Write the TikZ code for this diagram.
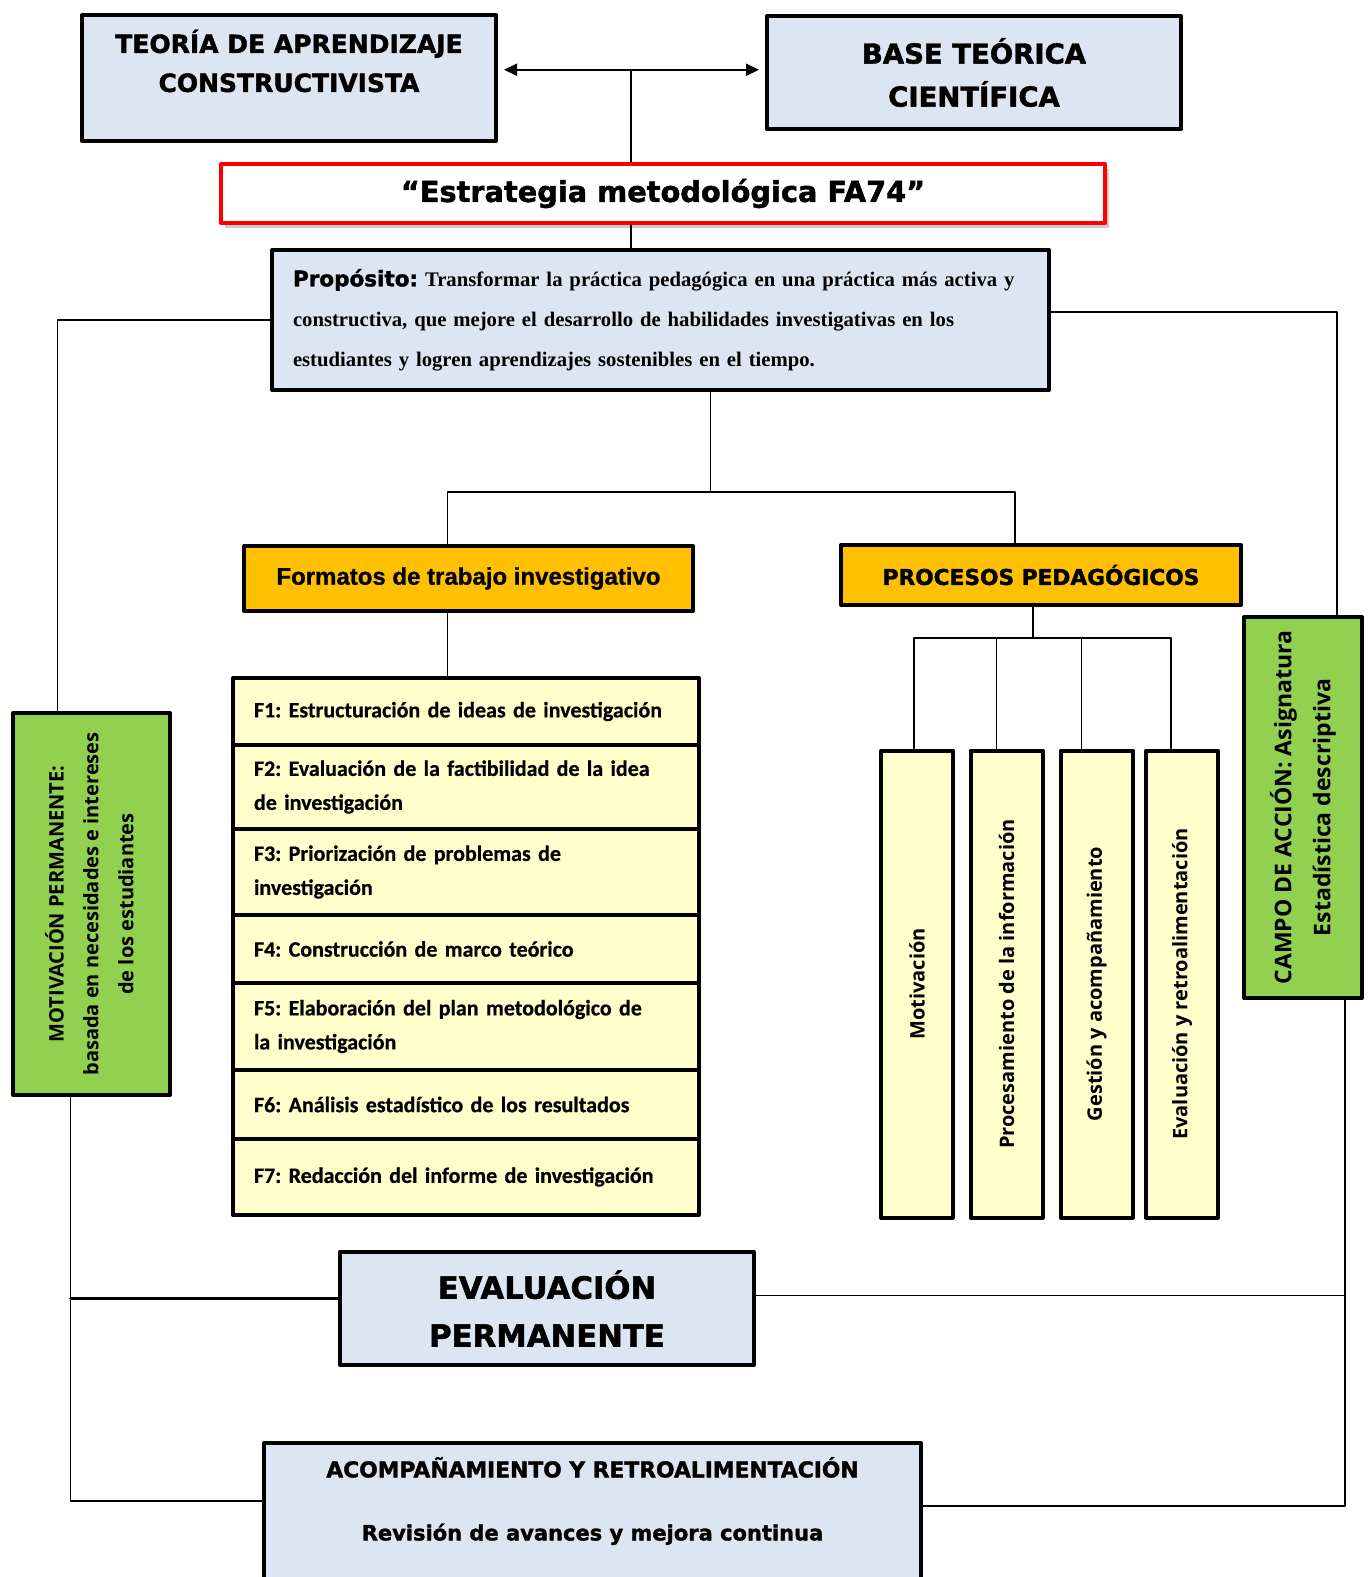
\documentclass[tikz,border=0pt]{standalone}
\usepackage{fontspec}
\setmainfont{Liberation Serif}
\newfontfamily\heavy{DejaVu Sans}[BoldFeatures={FakeBold=1.6}]
\newfontfamily\arial{Liberation Sans}[BoldFeatures={FakeBold=0.8}]
\newfontfamily\calib{Carlito}[BoldFeatures={FakeBold=0.6}]
\newfontfamily\osans{Open Sans}
\usetikzlibrary{calc}
\usetikzlibrary{arrows.meta}
\usetikzlibrary{positioning}
\usetikzlibrary{shadows}

\definecolor{celeste}{HTML}{DCE6F2}
\definecolor{ambar}{HTML}{FFC000}
\definecolor{crema}{HTML}{FFFFCC}
\definecolor{verdeclaro}{HTML}{92D050}
\definecolor{rojo}{HTML}{FF0000}

\begin{document}
\frenchspacing
\begin{tikzpicture}[x=1pt, y=-1pt, line cap = round, line join = round, >={Triangle[length=13pt,width=12pt]}]
\tikzstyle{azul}=[draw=black, line width=4pt, fill=celeste, inner sep=0pt, align=center]
\tikzstyle{naranja}=[draw=black, line width=4pt, fill=ambar, inner sep=0pt]
\tikzstyle{formato}=[draw=black, line width=4pt, fill=crema, outer sep=0pt, inner xsep=21pt, inner ysep=0pt, text width=424pt, align=left, font=\calib\bfseries\fontsize{22}{34}\selectfont]
\tikzstyle{proceso}=[draw=black, line width=4pt, fill=crema, minimum width=72pt, minimum height=467pt, inner sep=0pt, font=\osans\bfseries\fontsize{20}{22}\selectfont]
\tikzstyle{verde}=[draw=black, line width=4pt, fill=verdeclaro, inner sep=0pt]
\tikzstyle{enlace}=[line width=1.5pt]

\useasboundingbox (0,0) rectangle (1372,1577);
\fill[white] (0,0) rectangle (1372,1577);

% cabecera
\node[azul, minimum width=414pt, minimum height=126pt] (teoria) at (289,78) {};
\node[font=\heavy\bfseries\fontsize{25}{39}\selectfont, align=center] (teoriat) at ($(teoria.north)+(0,48)$) {TEORÍA DE APRENDIZAJE\\CONSTRUCTIVISTA};
\node[azul, minimum width=414pt, minimum height=113pt, font=\heavy\bfseries\fontsize{27.5}{43}\selectfont] (base) at (974,72.5) {BASE TEÓRICA\\CIENTÍFICA};
\node[draw=rojo, line width=4.5pt, fill=white, minimum width=884pt, minimum height=59pt, drop shadow={shadow xshift=4pt, shadow yshift=-5pt, opacity=.4}, font=\heavy\bfseries\fontsize{28.8}{30}\selectfont] (estr) at (663,193.5) {“Estrategia metodológica FA74”};
\node[azul, minimum width=777pt, minimum height=140pt, inner xsep=21pt, text width=735pt, align=left, font=\bfseries\fontsize{20.7}{40}\selectfont] (prop) at (660.5,320) {{\heavy\fontsize{21.5}{40}\selectfont Propósito:} Transformar la práctica pedagógica en una práctica más activa y\\constructiva, que mejore el desarrollo de habilidades investigativas en los\\estudiantes y logren aprendizajes sostenibles en el tiempo.};

% formatos
\node[naranja, minimum width=449pt, minimum height=65pt, font=\arial\bfseries\fontsize{24}{28}\selectfont] (ftrab) at (468.5,578.5) {Formatos de trabajo investigativo};
\node[formato, minimum height=67pt] (f1) at (466,711.5) {F1: Estructuración de ideas de investigación};
\node[formato, minimum height=84pt, below=0pt of f1] (f2) {F2: Evaluación de la factibilidad de la idea\\de investigación};
\node[formato, minimum height=86pt, below=0pt of f2] (f3) {F3: Priorización de problemas de\\investigación};
\node[formato, minimum height=68pt, below=0pt of f3] (f4) {F4: Construcción de marco teórico};
\node[formato, minimum height=87pt, below=0pt of f4] (f5) {F5: Elaboración del plan metodológico de\\la investigación};
\node[formato, minimum height=69pt, below=0pt of f5] (f6) {F6: Análisis estadístico de los resultados};
\node[formato, minimum height=76pt, below=0pt of f6] (f7) {F7: Redacción del informe de investigación};

% procesos
\node[naranja, minimum width=400pt, minimum height=60pt, font=\heavy\bfseries\fontsize{21.7}{25}\selectfont] (proc) at (1041,575) {PROCESOS PEDAGÓGICOS};
\node[proceso] (p1) at (917,984) {\rotatebox{90}{Motivación}};
\node[proceso] (p2) at (1006.5,984) {\rotatebox{90}{Procesamiento de la información}};
\node[proceso] (p3) at (1096.5,984) {\rotatebox{90}{Gestión y acompañamiento}};
\node[proceso] (p4) at (1182,984) {\rotatebox{90}{Evaluación y retroalimentación}};

% laterales
\node[verde, minimum width=157pt, minimum height=382pt, font=\osans\bfseries\fontsize{20}{35}\selectfont] (motiv) at (91.5,904) {\rotatebox{90}{\begin{tabular}{@{}c@{}}MOTIVACIÓN PERMANENTE:\\basada en necesidades e intereses\\de los estudiantes\end{tabular}}};
\node[verde, minimum width=118pt, minimum height=381pt, font=\osans\bfseries\fontsize{23}{39}\selectfont] (campo) at (1303,807.5) {\rotatebox{90}{\begin{tabular}{@{}c@{}}CAMPO DE ACCIÓN: Asignatura\\Estadística descriptiva\end{tabular}}};

% pie
\node[azul, minimum width=414pt, minimum height=113pt, font=\heavy\bfseries\fontsize{30.7}{48}\selectfont] (eval) at (547,1308.5) {EVALUACIÓN\\PERMANENTE};
\node[azul, minimum width=657pt, minimum height=180pt] (acomp) at (592.5,1533) {};
\node[font=\heavy\bfseries\fontsize{21.8}{63}\selectfont, align=center] (acompt) at ($(acomp.north)+(0,60)$) {ACOMPAÑAMIENTO Y RETROALIMENTACIÓN\\\fontsize{21}{63}\selectfont Revisión de avances y mejora continua};

% enlaces superiores
\coordinate (hub) at ($(estr.north)+(-32,-92)$);
\draw[enlace] (hub) -- (hub |- estr.north);
\draw[<->, line width=2pt, shorten >=6pt, shorten <=6pt] (teoria.east |- hub) -- (base.west |- hub);
\draw[enlace] (estr.south -| hub) -- (prop.north -| hub);

\coordinate (split) at ($(prop.south)+(50,100)$);
\path ([xshift=-21pt]ftrab.north) coordinate (ft);
\path ([xshift=-26pt]proc.north) coordinate (pc);
\draw[enlace] (prop.south -| split) -- (split);
\draw[enlace] (ft) |- (split) -| (pc);
\path ([xshift=-21pt]ftrab.south) coordinate (fb);
\draw[enlace] (fb) -- (fb |- f1.north);

\coordinate (pphub) at ($(proc.south)+(-8,31)$);
\draw[enlace] ([xshift=-8pt]proc.south) -- (pphub);
\draw[enlace] ([xshift=-3pt]p1.north) |- (pphub) -| ([xshift=-11pt]p4.north);
\foreach \n/\s in {p2/-10pt, p3/-15pt} {
  \path ([xshift=\s]\n.north) coordinate (t\n);
  \draw[enlace] (t\n) -- (t\n |- pphub);
}

% enlaces laterales
\path ([xshift=-34pt]motiv.north) coordinate (mn);
\draw[enlace] (prop.west) -| (mn);
\path ([yshift=8pt]prop.east) coordinate (pe);
\path ([xshift=34pt]campo.north) coordinate (cn);
\draw[enlace] (pe) -| (cn);

\path ([xshift=-21pt]motiv.south) coordinate (ms);
\path ([yshift=32pt]acomp.west) coordinate (aw);
\draw[enlace] (ms) |- (aw);
\path ([yshift=10pt]eval.west) coordinate (ew);
\draw[line width=2.5pt] (ew) -- (ew -| ms);

\path ([xshift=42pt]campo.south) coordinate (cs);
\path ([yshift=27pt]acomp.east) coordinate (ae);
\draw[enlace] (cs) |- (ae);
\path ([yshift=13pt]eval.east) coordinate (ee);
\draw[enlace] (ee) -- (ee -| cs);
\end{tikzpicture}
\end{document}
